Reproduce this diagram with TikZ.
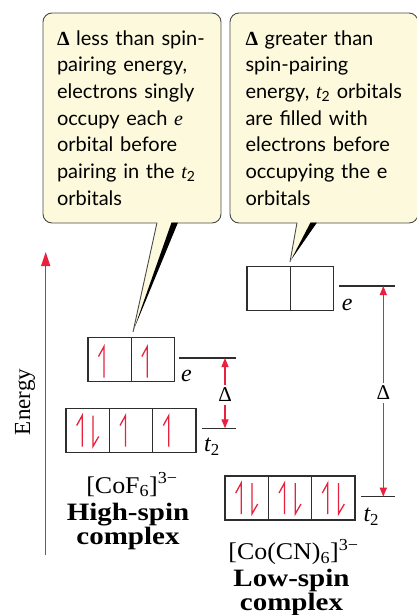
\documentclass[tikz,border=0pt]{standalone}
\usepackage{fontspec}
\setmainfont{Liberation Serif}
\newfontfamily\callfont{Lato}
\newfontfamily\labfont{Liberation Serif}[FakeStretch=1.08]
\newfontfamily\blabfont{Liberation Serif}[FakeStretch=1.16]
\usetikzlibrary{arrows.meta,calc}
\definecolor{elred}{HTML}{E8213F}
\definecolor{callbg}{HTML}{FDF9DC}
\definecolor{callline}{HTML}{4A4A4A}
\definecolor{boxline}{HTML}{2E2E2E}
\begin{document}
\begin{tikzpicture}[x=1pt,y=-1pt,
  cell/.style={draw=boxline, line width=1.3pt, minimum width=43.3pt, minimum height=44pt, inner sep=0pt, outer sep=0pt},
  lvl/.style={draw=boxline, line width=1.2pt},
  elec/.style={draw=elred, line width=1.3pt, line join=miter},
  callout/.style={draw=callline, fill=callbg, line width=0.9pt, rounded corners=9pt, inner sep=0pt,
    font=\callfont\fontsize{20}{26.7}\selectfont, align=left},
  gap/.style={-{Triangle[length=9pt,width=7pt]}, draw=elred, line width=1.3pt},
  earrow/.style={-{Triangle[length=14pt,width=9pt]}, draw=elred, line width=1.5pt},
  dlab/.style={font=\fontsize{21}{24}\selectfont, inner sep=3pt},
  lvllab/.style={font=\fontsize{24}{28}\itshape\selectfont, inner sep=0pt, anchor=base west},
  lab/.style={font=\labfont\fontsize{24}{28}\selectfont, inner sep=0pt, anchor=base},
  blab/.style={font=\blabfont\fontsize{25}{22.5}\bfseries\selectfont, inner sep=0pt, anchor=base, align=center},
  upe/.pic={\draw[elec] (-5.5,16) -- (-5.5,-15) -- (-11,-5);},
  dne/.pic={\draw[elec] (5.2,-15) -- (5.2,16) -- (11,6);}
]
\useasboundingbox (0,0) rectangle (416,615);

% callouts
\node[callout, minimum width=178pt, minimum height=210pt, text width=150pt] (c1) at (132,118)
 {\mbox{{\bfseries\rmfamily Δ} less than spin-}\\
  \mbox{pairing energy,}\\
  \mbox{electrons singly}\\
  \mbox{occupy each {\rmfamily\itshape e}}\\
  \mbox{orbital before}\\
  \mbox{pairing in the {\rmfamily\itshape t}\textsubscript{2}}\\
  \mbox{orbitals}};
\node[callout, minimum width=188pt, minimum height=210pt, text width=157pt] (c2) at (324,118)
 {\mbox{{\bfseries\rmfamily Δ} greater than}\\
  \mbox{spin-pairing}\\
  \mbox{energy, {\rmfamily\itshape t}\textsubscript{2} orbitals}\\
  \mbox{are filled with}\\
  \mbox{electrons before}\\
  \mbox{occupying the e}\\
  \mbox{orbitals}};

% callout tails
\fill[callbg] (157,221.5) -- (172,221.5) -- (133,332) -- cycle;
\fill[black] (171.5,222.5) -- (178,222.5) -- (134,329) -- cycle;
\draw[callline, line width=0.9pt] (157,222.6) -- (133,332);
\fill[callbg] (297,221.5) -- (311,221.5) -- (290,262) -- cycle;
\fill[black] (310.5,222.5) -- (317,222.5) -- (291,260) -- cycle;
\draw[callline, line width=0.9pt] (297,222.6) -- (290,262);

% energy axis
\coordinate (ebot) at (45.7,555);
\coordinate (etop) at (45.7,252);
\draw[earrow] (ebot) -- (etop);
\node[rotate=90, font=\fontsize{23}{26}\selectfont, inner sep=0pt] (en) at (25,402) {Energy};

% high-spin orbitals
\node[cell] (he1) at (109.5,359.5) {};
\node[cell] (he2) at (152.8,359.5) {};
\node[cell] (ht1) at (87.7,430.5) {};
\node[cell] (ht2) at (131,430.5) {};
\node[cell] (ht3) at (174.3,430.5) {};
\pic at ($(he1)+(0,2)$) {upe};
\pic at ($(he2)+(0,2)$) {upe};
\pic at (ht1) {upe};
\pic at (ht1) {dne};
\pic at (ht2) {upe};
\pic at (ht3) {upe};

% low-spin orbitals
\node[cell] (le1) at (268.7,288.5) {};
\node[cell] (le2) at (312,288.5) {};
\node[cell] (lt1) at (246.7,498) {};
\node[cell] (lt2) at (290,498) {};
\node[cell] (lt3) at (333.3,498) {};
\foreach \c in {lt1,lt2,lt3}{\pic at (\c) {upe}; \pic at (\c) {dne};}

% level lines
\coordinate (hel) at (179.3,358);
\coordinate (her) at (236,358);
\coordinate (htl) at (201.7,428.3);
\coordinate (htr) at (236,428.3);
\coordinate (lel) at (339.3,286);
\coordinate (ler) at (395,286);
\coordinate (ltl) at (361,496.7);
\coordinate (ltr) at (395,496.7);
\draw[lvl] (hel) -- (her);
\draw[lvl] (htl) -- (htr);
\draw[lvl] (lel) -- (ler);
\draw[lvl] (ltl) -- (ltr);
\node[lvllab] (hel-lab) at (181,381) {e};
\node[lvllab] (htl-lab) at (204,451.7) {t\textsubscript{\upshape 2}};
\node[lvllab] (lel-lab) at (341.7,310) {e};
\node[lvllab] (ltl-lab) at (363.3,521.7) {t\textsubscript{\upshape 2}};

% delta arrows
\coordinate (d1t) at (225,358);
\coordinate (d1b) at (225,428.3);
\coordinate (d2t) at (383.3,286);
\coordinate (d2b) at (383.3,496.7);
\node[dlab] (d1) at (225,395) {Δ};
\node[dlab] (d2) at (383.3,393) {Δ};
\draw[gap] (d1.north) -- (d1t);
\draw[gap] (d1.south) -- (d1b);
\draw[gap] (d2.north) -- (d2t);
\draw[gap] (d2.south) -- (d2b);

% labels
\node[lab] (hsf) at (132,493) {[CoF\textsubscript{6}]\textsuperscript{3−}};
\node[blab] (hs) at (128,544.5) {High-spin\\complex};
\node[lab] (lsf) at (293.5,559.5) {[Co(CN)\textsubscript{6}]\textsuperscript{3−}};
\node[blab] (ls) at (291.5,610) {Low-spin\\complex};
\end{tikzpicture}
\end{document}
